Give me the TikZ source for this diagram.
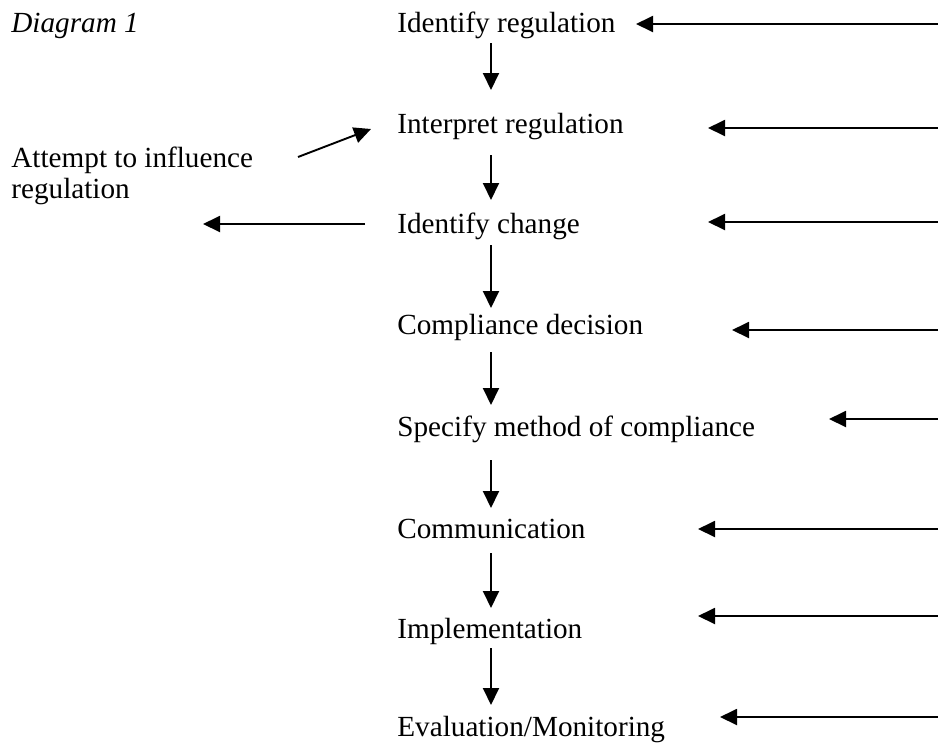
\documentclass[tikz,border=0pt]{standalone}
\usepackage{fontspec}
\setmainfont{Liberation Serif}
\usetikzlibrary{arrows.meta,calc}
\tikzset{
  arr/.style={-{Triangle[length=8.5pt,width=8pt]}, line width=0.95pt, draw=black},
  stage/.style={anchor=base west, inner sep=0pt, font=\fontsize{14.6}{15.5}\selectfont},
  side/.style={anchor=west, inner sep=0pt, align=left, font=\fontsize{14.6}{15.5}\selectfont}
}

\begin{document}
\begin{tikzpicture}[x=0.5pt,y=-0.5pt]
  \useasboundingbox (0,0) rectangle (938,745);
  \coordinate (spine) at (491,0);
  \coordinate (rim) at (938,0);
  \node[stage, font=\fontsize{14.6}{15.5}\selectfont\itshape] (title) at (11,32) {Diagram 1};
  % the process, top to bottom
  \foreach \i/\lab/\y in {1/Identify regulation/32, 2/Interpret regulation/133,
    3/Identify change/233, 4/Compliance decision/334, 5/Specify method of compliance/436,
    6/Communication/538, 7/Implementation/638, 8/{Evaluation/Monitoring}/736}{
    \node[stage] (s\i) at (397,\y) {\lab};
  }
  \node[side] (infl) at (11,176) {Attempt to influence\\regulation};
  \foreach \i/\j/\a/\b in {1/2/11/43, 2/3/22/33, 3/4/12/26, 4/5/18/31,
    5/6/24/30, 6/7/15/30, 7/8/10/31}{
    \draw[arr] ($(s\i.base -| spine)+(0,\a)$) -- ($(s\j.base -| spine)+(0,-\b)$);
  }
  % inputs coming in from the right
  \foreach \i/\dx/\dy in {1/239/-8, 2/311/-5, 3/311/-11, 4/335/-4,
    5/432/-17, 6/301/-9, 7/301/-22, 8/323/-19}{
    \coordinate (t\i) at ($(s\i.base west)+(\dx,\dy)$);
    \draw[arr] (t\i -| rim) -- (t\i);
  }
  \draw[arr] ($(s3.base west)+(-32,-9)$) -- ($(s3.base west)+(-194,-9)$);
  \draw[arr] ($(s2.base west)+(-99,24)$) -- ($(s2.base west)+(-26,-4)$);
\end{tikzpicture}
\end{document}
